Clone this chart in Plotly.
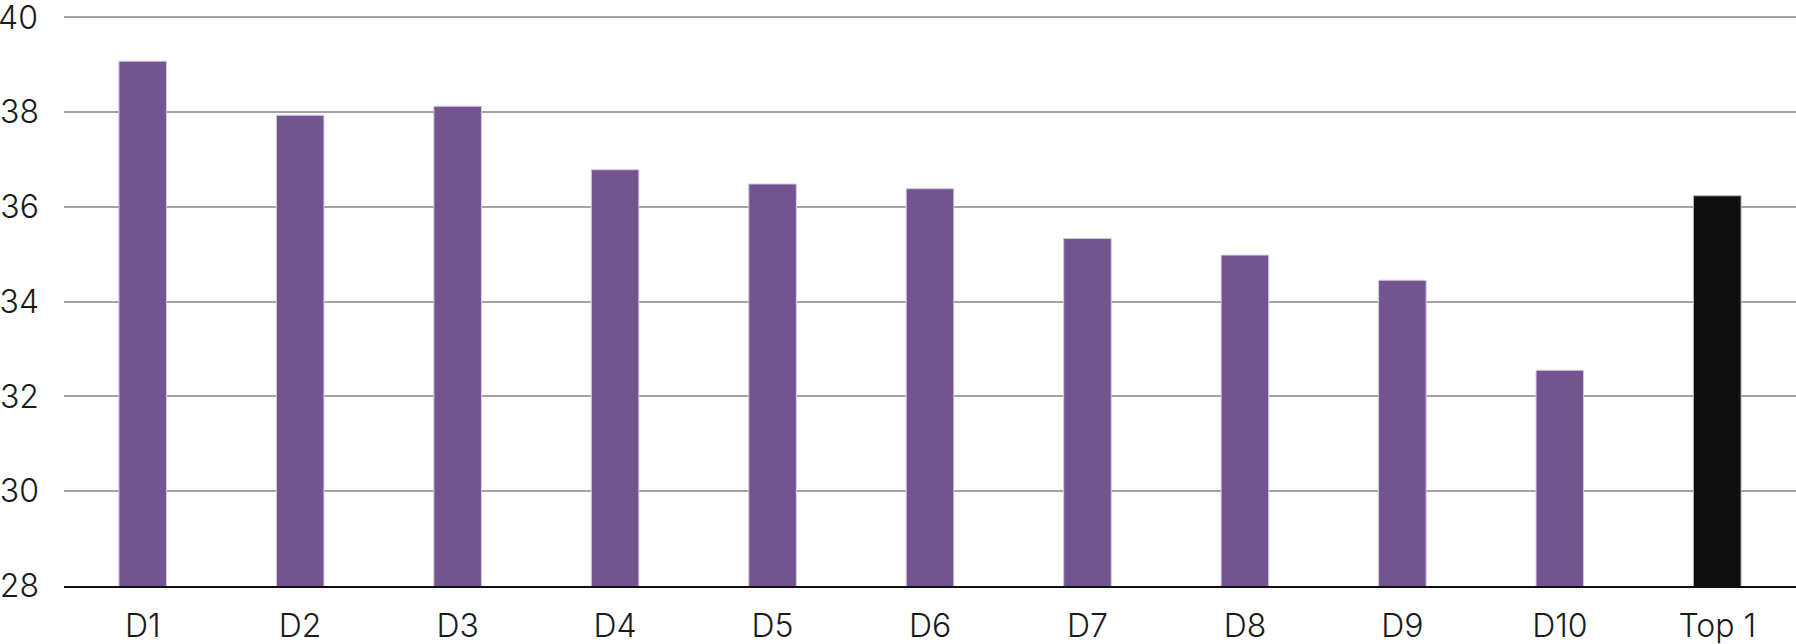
import plotly.graph_objects as go

categories = ["D1", "D2", "D3", "D4", "D5", "D6", "D7", "D8", "D9", "D10", "Top 1"]
values = [39.07, 37.93, 38.12, 36.78, 36.48, 36.38, 35.33, 34.98, 34.45, 32.55, 36.23]
bar_colors = ["#72548f"] * 10 + ["#0f0f0f"]
line_colors = ["#d5c8e2"] * 10 + ["#b0b0b0"]
y_ticks = [28, 30, 32, 34, 36, 38, 40]
top_tick = y_ticks[-1]

FONT = dict(family="Inter", size=32, color="#1a1a1a", weight=300)

fig = go.Figure(
    go.Bar(
        x=categories,
        y=values,
        base=0,
        marker=dict(color=bar_colors, line=dict(color=line_colors, width=1)),
    )
)

fig.update_layout(
    width=1796,
    height=644,
    margin=dict(l=64, r=0, t=10, b=58, autoexpand=False),
    plot_bgcolor="white",
    paper_bgcolor="white",
    bargap=0.698,
    showlegend=False,
    font=FONT,
)

# the top tick label sits at the very edge of the plot; plotly hides it there,
# so it is drawn as a text annotation at the same place
fig.add_annotation(
    x=0, xref="paper", xanchor="right", xshift=-24,
    y=top_tick, yref="y", yanchor="middle",
    text=str(top_tick), showarrow=False, font=FONT,
)

fig.update_yaxes(
    range=[28, 40.15],
    tickvals=y_ticks,
    ticktext=[str(v) if v != top_tick else "" for v in y_ticks],
    showgrid=True,
    gridcolor="#a3a3a3",
    gridwidth=1.5,
    zeroline=False,
    showline=False,
    ticks="",
    ticklabelstandoff=24,
    automargin=False,
)

fig.update_xaxes(
    showline=True,
    linecolor="#111111",
    linewidth=2,
    ticks="",
    ticklabelstandoff=11,
    showgrid=False,
    automargin=False,
)

fig.write_html(
    "out.html",
    config={"displayModeBar": False},
    post_script="document.body.style.margin='0';",
)
